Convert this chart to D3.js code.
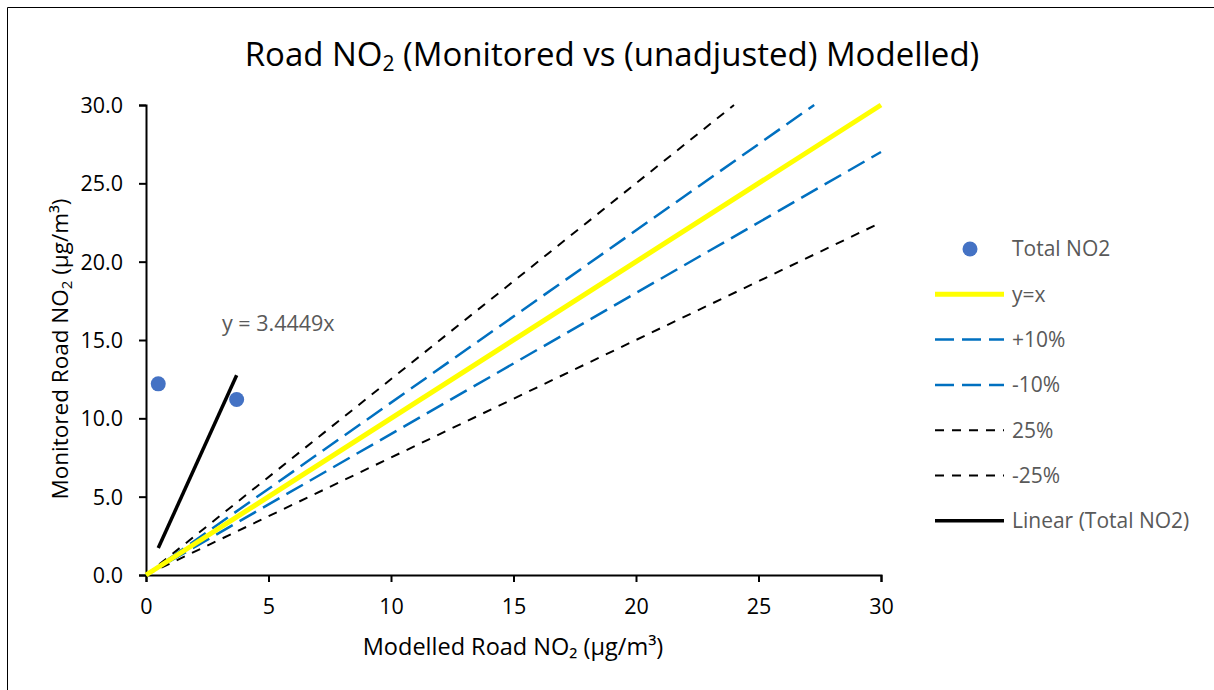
<!DOCTYPE html>
<html>
<head>
<meta charset="utf-8">
<script src="https://cdn.jsdelivr.net/npm/d3@7"></script>
<style>
body { margin: 0; background: #fff; }
text { font-family: "Open Sans", Lato, sans-serif; }
</style>
</head>
<body>
<div id="chart"></div>
<script>
// data
var modelled = [0.5, 3.7];
var monitored = [12.2, 11.2];
var refNames = ["y=x", "+10%", "-10%", "25%", "-25%"];
var refSlopes = [1, 1.1, 0.9, 1.25, 0.75];
var trendSlope = 3.4449;
var xTicks = [0, 5, 10, 15, 20, 25, 30];
var yTicks = [0, 5, 10, 15, 20, 25, 30];

var width = 1214, height = 690;
var margin = {left: 146, right: 333, top: 105, bottom: 115};

var svg = d3.select("#chart").append("svg")
    .attr("width", width)
    .attr("height", height);

// chart frame (only left and top visible)
svg.append("path")
    .attr("d", "M7.5,690 L7.5,7.5 L1214,7.5")
    .attr("fill", "none")
    .attr("stroke", "#000")
    .attr("stroke-width", 1);

var x = d3.scaleLinear().domain([0, 30]).range([margin.left, width - margin.right]);
var y = d3.scaleLinear().domain([0, 30]).range([height - margin.bottom, margin.top]);

// title
var title = svg.append("text")
    .attr("x", 612).attr("y", 66)
    .attr("text-anchor", "middle")
    .style("font-size", "33px")
    .attr("fill", "#000");
title.append("tspan").text("Road NO");
title.append("tspan").attr("baseline-shift", "-25%").style("font-size", "21px").text("2");
title.append("tspan").text(" (Monitored vs (unadjusted) Modelled)");

// axes
var xAxis = svg.append("g")
    .attr("transform", "translate(0," + y(0) + ")")
    .call(d3.axisBottom(x).tickValues(xTicks).tickSize(7).tickFormat(d3.format("d")));
var yAxis = svg.append("g")
    .attr("transform", "translate(" + x(0) + ",0)")
    .call(d3.axisLeft(y).tickValues(yTicks).tickSize(7).tickFormat(d3.format(".1f")));

[xAxis, yAxis].forEach(function(a) {
    a.select(".domain").attr("stroke", "#000").attr("stroke-width", 2);
    a.selectAll(".tick line").attr("stroke", "#000").attr("stroke-width", 2);
    a.selectAll("text").style("font-size", "21.5px").attr("fill", "#000")
        .style("font-family", "'Open Sans', Lato, sans-serif");
});
xAxis.selectAll("text").attr("y", 17).attr("dy", "1em");
yAxis.selectAll("text").attr("x", -23).attr("dy", "0.35em");

// axis titles
svg.append("text")
    .attr("x", 513).attr("y", 655)
    .attr("text-anchor", "middle")
    .style("font-size", "23.5px")
    .text("Modelled Road NO\u2082 (\u00b5g/m\u00b3)");

var yt = svg.append("text")
    .attr("transform", "translate(68," + (y(15) + 9) + ") rotate(-90)")
    .attr("text-anchor", "middle")
    .style("font-size", "22.5px");
yt.append("tspan").text("Monitored Road NO");
yt.append("tspan").attr("baseline-shift", "-25%").style("font-size", "15px").text("2");
yt.append("tspan").text(" (\u00b5g/m\u00b3)");

// reference line styles
var refStyles = [
    {color: "#FFFF00", width: 5, dash: null},
    {color: "#0070C0", width: 2.5, dash: "19,8"},
    {color: "#0070C0", width: 2.5, dash: "19,8"},
    {color: "#000000", width: 2, dash: "9,8"},
    {color: "#000000", width: 2, dash: "9,8"}
];

var line = d3.line().x(function(d) { return x(d[0]); }).y(function(d) { return y(d[1]); });

// draw dashed lines first, then y=x on top
[3, 4, 1, 2, 0].forEach(function(i) {
    var k = refSlopes[i];
    var xEnd = Math.min(30, 30 / k);
    svg.append("path")
        .attr("d", line([[0, 0], [xEnd, k * xEnd]]))
        .attr("fill", "none")
        .attr("stroke", refStyles[i].color)
        .attr("stroke-width", refStyles[i].width)
        .attr("stroke-dasharray", refStyles[i].dash);
});

// trendline over the data range
var xMin = d3.min(modelled), xMax = d3.max(modelled);
svg.append("path")
    .attr("d", line([[xMin, trendSlope * xMin], [xMax, trendSlope * xMax]]))
    .attr("fill", "none")
    .attr("stroke", "#000")
    .attr("stroke-width", 3.5);

svg.append("text")
    .attr("x", 222).attr("y", 331)
    .style("font-size", "21.5px")
    .attr("fill", "#595959")
    .text("y = " + trendSlope + "x");

// points
svg.selectAll(".pt")
    .data(modelled)
    .enter().append("circle")
    .attr("class", "pt")
    .attr("cx", function(d) { return x(d); })
    .attr("cy", function(d, i) { return y(monitored[i]); })
    .attr("r", 7.5)
    .attr("fill", "#4472C4");

// legend
var legend = svg.append("g");
var legY = 249, legStep = 45.3;
legend.append("circle").attr("cx", 970).attr("cy", legY).attr("r", 7.5).attr("fill", "#4472C4");
legend.append("text").attr("x", 1012).attr("y", legY).attr("dy", "0.35em")
    .style("font-size", "21px").attr("fill", "#595959").text("Total NO2");

var legItems = refNames.map(function(n, i) { return {name: n, style: refStyles[i]}; });
legItems.push({name: "Linear (Total NO2)", style: {color: "#000", width: 3.5, dash: null}});

legItems.forEach(function(d, i) {
    var ly = legY + legStep * (i + 1);
    legend.append("line")
        .attr("x1", 935).attr("x2", 1004)
        .attr("y1", ly).attr("y2", ly)
        .attr("stroke", d.style.color)
        .attr("stroke-width", d.style.width)
        .attr("stroke-dasharray", d.style.dash);
    legend.append("text").attr("x", 1012).attr("y", ly).attr("dy", "0.35em")
        .style("font-size", "21px").attr("fill", "#595959").text(d.name);
});
</script>
</body>
</html>
